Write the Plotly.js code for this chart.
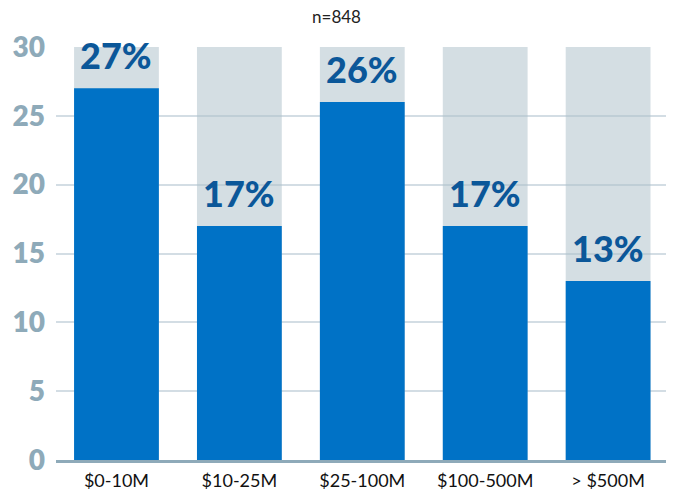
<!DOCTYPE html>
<html>
<head>
<meta charset="utf-8">
<script src="https://cdn.plot.ly/plotly-3.0.1.min.js"></script>
<style>html,body{margin:0;padding:0;background:#fff;}#chart{width:673px;height:493px;}</style>
</head>
<body>
<div id="chart"></div>
<script>
const categories = ["$0-10M", "$10-25M", "$25-100M", "$100-500M", "> $500M"];
const values = [27, 17, 26, 17, 13];
const totals = [30, 30, 30, 30, 30];
const valueLabels = ["27%", "17%", "26%", "17%", "13%"];
const yTicks = [0, 5, 10, 15, 20, 25, 30];
const titleText = "n=848";

const traces = [
  {
    type: "bar", x: categories, y: totals, width: 0.69,
    marker: {color: "rgba(172,192,201,0.52)"},
    hoverinfo: "skip", showlegend: false
  },
  {
    type: "bar", x: categories, y: values, width: 0.69,
    marker: {color: "#0072c6"},
    showlegend: false
  }
];

const annotations = categories.map((c, i) => ({
  x: c, y: values[i], xref: "x", yref: "y",
  text: valueLabels[i], showarrow: false,
  yanchor: "bottom", yshift: 9,
  font: {family: "Lato, 'Open Sans', sans-serif", size: 36, color: "#0b5799", weight: 900}
}));

const layout = {
  width: 673, height: 493,
  margin: {l: 56, r: 7, t: 47, b: 33},
  paper_bgcolor: "#fff", plot_bgcolor: "#fff",
  barmode: "overlay",
  title: {text: titleText, x: 0.5, xanchor: "center", y: 0.966, yanchor: "middle",
          font: {family: "Lato, Arial, sans-serif", size: 17, color: "#222"}},
  xaxis: {
    type: "category", range: [-0.492, 4.471],
    showgrid: false, showline: true, linecolor: "#8eaab9", linewidth: 3,
    ticks: "", ticklabelstandoff: 2,
    tickfont: {family: "Lato, 'Open Sans', sans-serif", size: 18, color: "#111"},
    fixedrange: true
  },
  yaxis: {
    range: [0, 30], tickvals: yTicks, ticktext: yTicks.map(String),
    showgrid: true, gridcolor: "#d3dde4", gridwidth: 2,
    zeroline: false, showline: false, ticks: "",
    ticklabelstandoff: 10,
    tickfont: {family: "Lato, 'Open Sans', sans-serif", size: 28, color: "#8eaab9", weight: 800},
    fixedrange: true
  },
  annotations: annotations
};

Plotly.newPlot("chart", traces, layout, {displayModeBar: false, staticPlot: true});
</script>
</body>
</html>
